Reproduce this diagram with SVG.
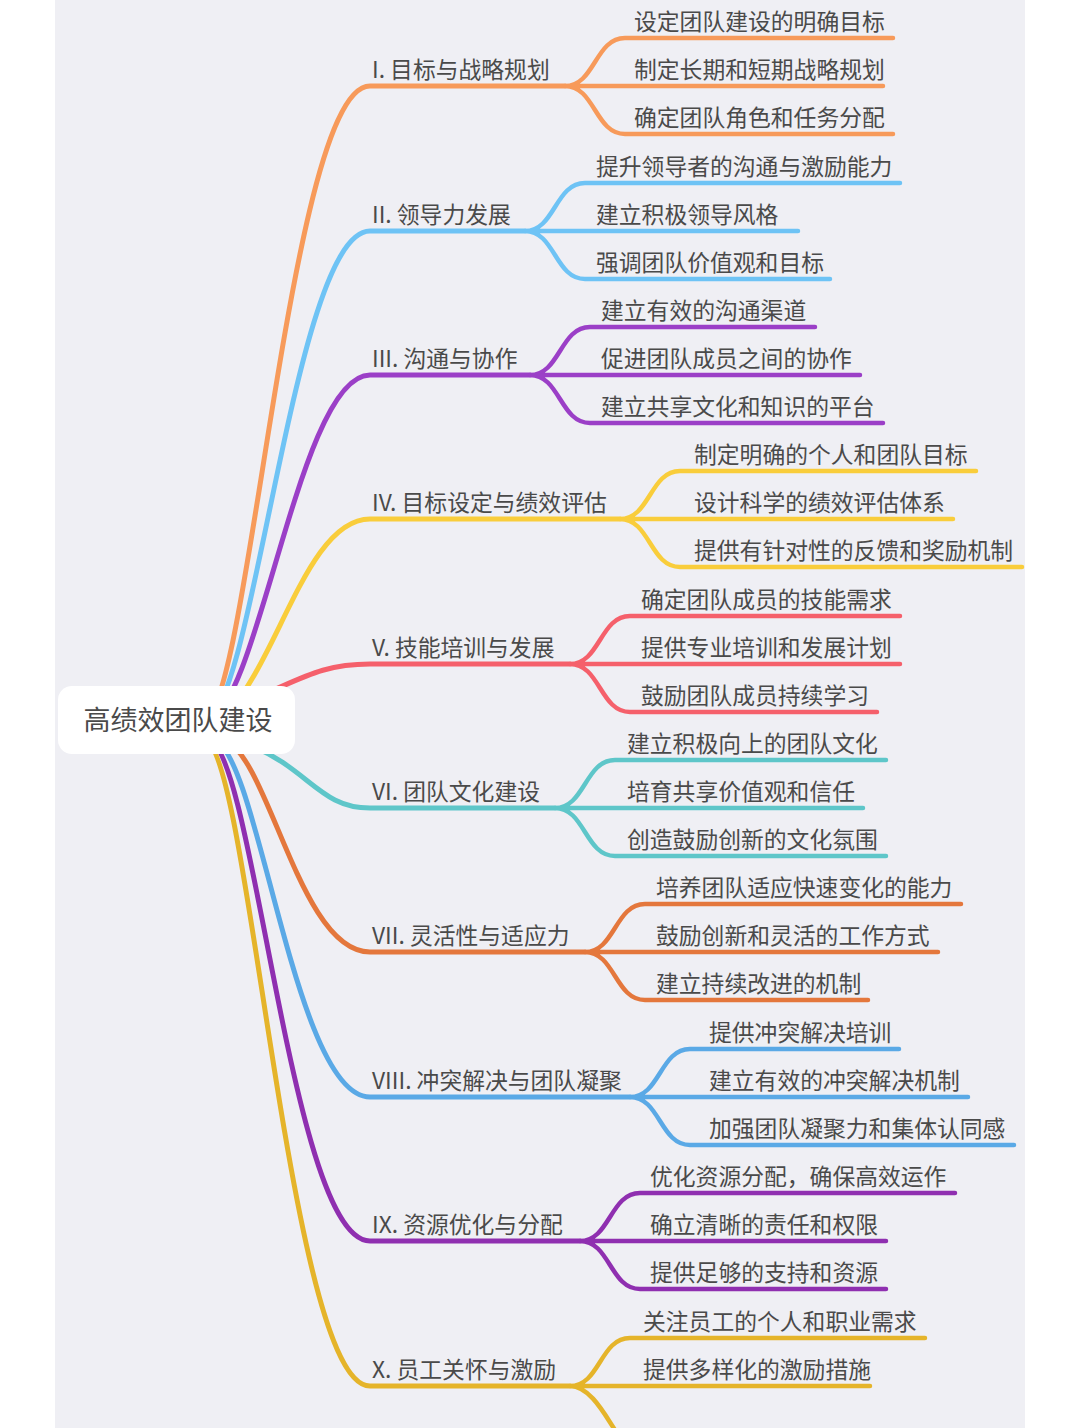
<svg xmlns="http://www.w3.org/2000/svg" width="1080" height="1428" viewBox="0 0 1080 1428">
<style>
text{font-family:"Noto Sans CJK SC","Noto Sans",sans-serif;fill:#4a4a4a;font-size:22.8px}
.m{fill:none;stroke-width:5;stroke-linecap:round}
.l{fill:none;stroke-width:4.5;stroke-linecap:round}
.c1{stroke:#f79a5a}.c2{stroke:#6ec3f5}.c3{stroke:#9b3fc7}.c4{stroke:#f9cd3b}.c5{stroke:#f5606b}
.c6{stroke:#5ec6c9}.c7{stroke:#e4773c}.c8{stroke:#5aa9e6}.c9{stroke:#8f2fb0}.c10{stroke:#e5b42a}
</style>
<rect width="1080" height="1428" fill="#ffffff"/>
<rect x="55" y="0" width="970" height="1428" fill="#efeff4"/>
<g id="connectors">
<path class="m c1" d="M205 720 C250 700 290 86 370 86 L565 86"/>
<path class="l c1" d="M565 86 C595 86 595 38 625 38 L893 38 M565 86 L883 86 M565 86 C595 86 595 134 625 134 L893 134"/>
<path class="m c2" d="M207 720 C255 700 295 231 370 231 L525 231"/>
<path class="l c2" d="M525 231 C555 231 555 183 585 183 L900 183 M525 231 L798 231 M525 231 C555 231 555 279 585 279 L830 279"/>
<path class="m c3" d="M209 720 C260 700 300 375 370 375 L530 375"/>
<path class="l c3" d="M530 375 C560 375 560 327 590 327 L815 327 M530 375 L860 375 M530 375 C560 375 560 423 590 423 L883 423"/>
<path class="m c4" d="M212 720 C270 700 300 519 370 519 L620 519"/>
<path class="l c4" d="M620 519 C650 519 650 471 680 471 L976 471 M620 519 L953 519 M620 519 C650 519 650 567 680 567 L1022 567"/>
<path class="m c5" d="M250 700 C300 680 320 664 370 664 L570 664"/>
<path class="l c5" d="M570 664 C600 664 600 616 630 616 L900 616 M570 664 L900 664 M570 664 C600 664 600 712 630 712 L877 712"/>
<path class="m c6" d="M250 745 C310 770 320 808 370 808 L555 808"/>
<path class="l c6" d="M555 808 C585 808 585 760 615 760 L886 760 M555 808 L863 808 M555 808 C585 808 585 856 615 856 L886 856"/>
<path class="m c7" d="M225 740 C270 760 300 952 370 952 L585 952"/>
<path class="l c7" d="M585 952 C615 952 615 904 645 904 L961 904 M585 952 L938 952 M585 952 C615 952 615 1000 645 1000 L868 1000"/>
<path class="m c8" d="M215 740 C260 760 295 1097 370 1097 L630 1097"/>
<path class="l c8" d="M630 1097 C660 1097 660 1049 690 1049 L899 1049 M630 1097 L968 1097 M630 1097 C660 1097 660 1145 690 1145 L1014 1145"/>
<path class="m c9" d="M210 740 C255 760 292 1241 370 1241 L580 1241"/>
<path class="l c9" d="M580 1241 C610 1241 610 1193 640 1193 L955 1193 M580 1241 L886 1241 M580 1241 C610 1241 610 1289 640 1289 L886 1289"/>
<path class="m c10" d="M206 740 C250 760 290 1386 370 1386 L570 1386"/>
<path class="l c10" d="M570 1386 C600 1386 600 1338 630 1338 L925 1338 M570 1386 L870 1386 M570 1386 C590 1386 605 1415 615 1430"/>
</g>
<g id="root"><rect x="58" y="686" width="237" height="68" rx="14" fill="#fff"/><text x="178" y="730" text-anchor="middle" style="font-size:27px">高绩效团队建设</text></g>
<g id="n1"><text x="372" y="78">I. 目标与战略规划</text><text x="634" y="30">设定团队建设的明确目标</text><text x="634" y="78">制定长期和短期战略规划</text><text x="634" y="126">确定团队角色和任务分配</text></g>
<g id="n2"><text x="372" y="223">II. 领导力发展</text><text x="596" y="175">提升领导者的沟通与激励能力</text><text x="596" y="223">建立积极领导风格</text><text x="596" y="271">强调团队价值观和目标</text></g>
<g id="n3"><text x="372" y="367">III. 沟通与协作</text><text x="601" y="319">建立有效的沟通渠道</text><text x="601" y="367">促进团队成员之间的协作</text><text x="601" y="415">建立共享文化和知识的平台</text></g>
<g id="n4"><text x="372" y="511">IV. 目标设定与绩效评估</text><text x="694" y="463">制定明确的个人和团队目标</text><text x="694" y="511">设计科学的绩效评估体系</text><text x="694" y="559">提供有针对性的反馈和奖励机制</text></g>
<g id="n5"><text x="372" y="656">V. 技能培训与发展</text><text x="641" y="608">确定团队成员的技能需求</text><text x="641" y="656">提供专业培训和发展计划</text><text x="641" y="704">鼓励团队成员持续学习</text></g>
<g id="n6"><text x="372" y="800">VI. 团队文化建设</text><text x="627" y="752">建立积极向上的团队文化</text><text x="627" y="800">培育共享价值观和信任</text><text x="627" y="848">创造鼓励创新的文化氛围</text></g>
<g id="n7"><text x="372" y="944">VII. 灵活性与适应力</text><text x="656" y="896">培养团队适应快速变化的能力</text><text x="656" y="944">鼓励创新和灵活的工作方式</text><text x="656" y="992">建立持续改进的机制</text></g>
<g id="n8"><text x="372" y="1089">VIII. 冲突解决与团队凝聚</text><text x="709" y="1041">提供冲突解决培训</text><text x="709" y="1089">建立有效的冲突解决机制</text><text x="709" y="1137">加强团队凝聚力和集体认同感</text></g>
<g id="n9"><text x="372" y="1233">IX. 资源优化与分配</text><text x="650" y="1185">优化资源分配，确保高效运作</text><text x="650" y="1233">确立清晰的责任和权限</text><text x="650" y="1281">提供足够的支持和资源</text></g>
<g id="n10"><text x="372" y="1378">X. 员工关怀与激励</text><text x="643" y="1330">关注员工的个人和职业需求</text><text x="643" y="1378">提供多样化的激励措施</text></g>
</svg>
